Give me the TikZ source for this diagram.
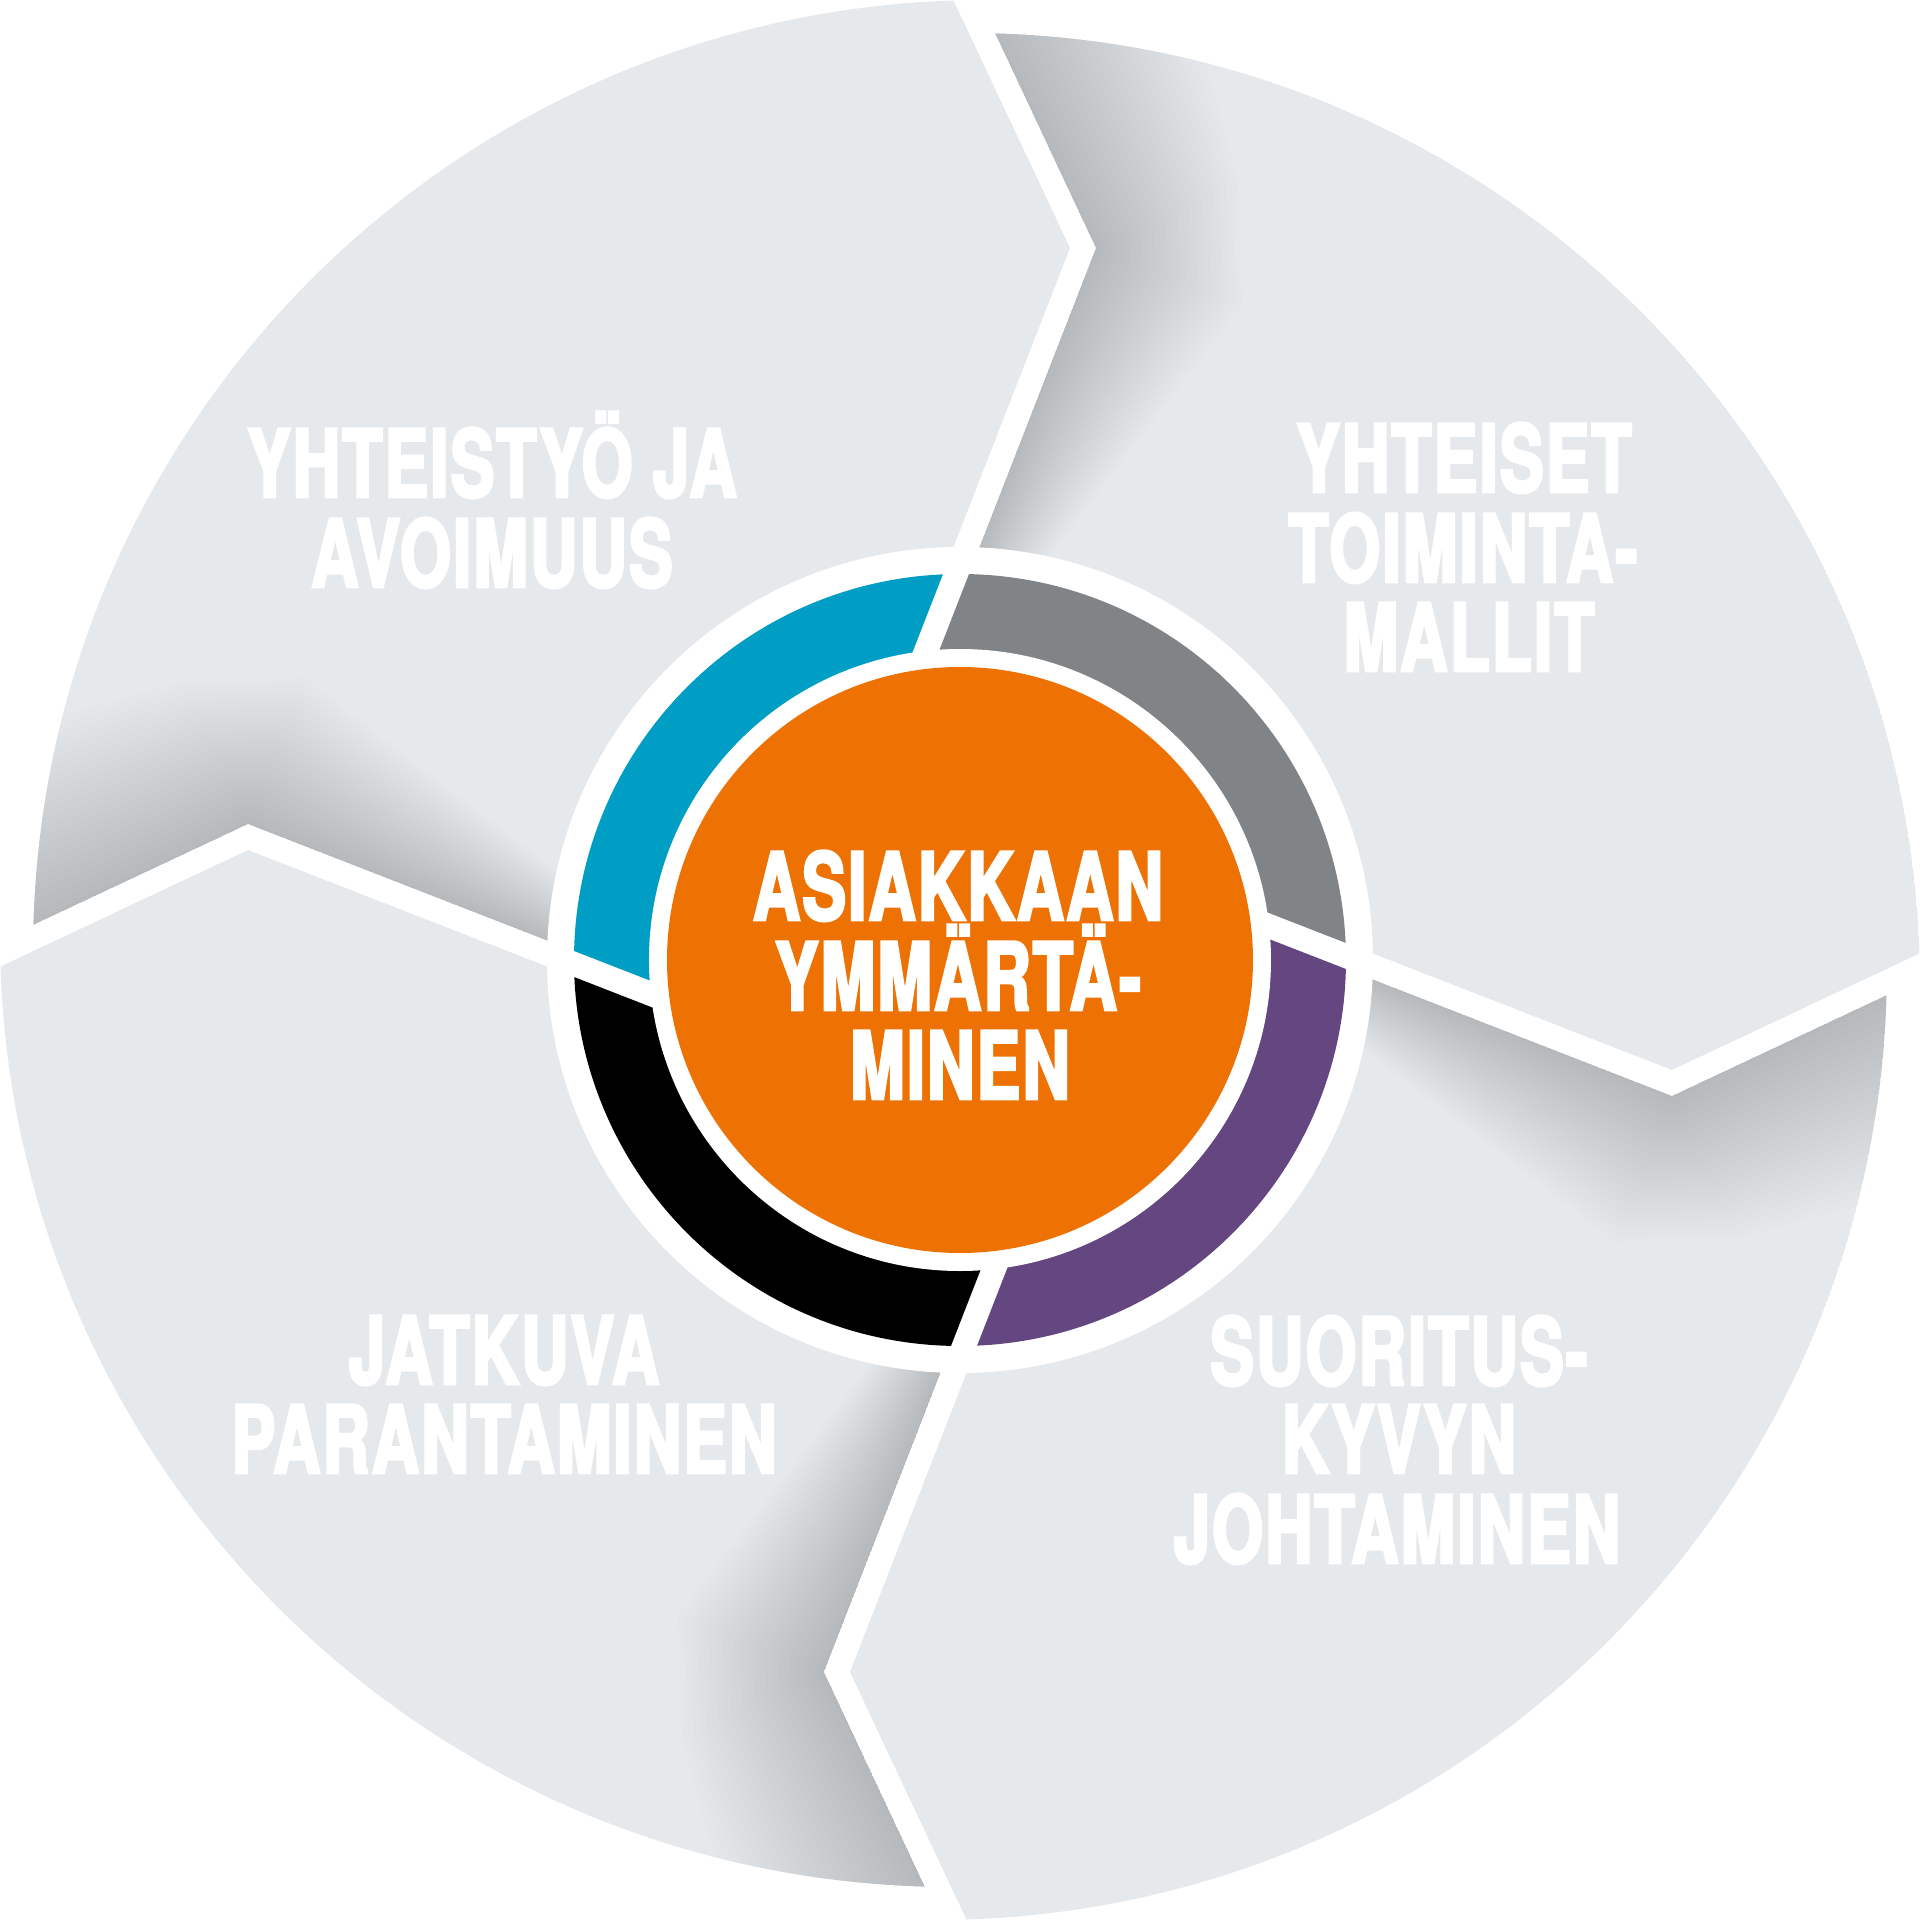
\documentclass[tikz,border=0pt]{standalone}
\usepackage{fontspec}
\newfontfamily\lblfont{TeX Gyre Heros}[FakeStretch=0.70,FakeBold=3,LetterSpace=2.3]
\definecolor{piecegray}{HTML}{E6E9EC}
\definecolor{segblue}{HTML}{009EC5}
\definecolor{seggray}{HTML}{818487}
\definecolor{segpurple}{HTML}{644680}
\definecolor{segblack}{HTML}{000000}
\definecolor{coreorange}{HTML}{EE7203}
\newcommand{\pcpoly}{(-66.1,193.1) -- (136,712) -- (-34.1,1074.1) -- (1300,1300) -- (1074,60.4) -- (712,-110) -- cycle}
\begin{document}
\begin{tikzpicture}[x=0.01cm,y=0.01cm,
  lbl/.style={text=white, font=\lblfont\bfseries\fontsize{26.6pt}{32pt}\selectfont, anchor=base, inner sep=0pt}]
\useasboundingbox (-960,-960) rectangle (960,960);
\fill[white] (-960,-960) rectangle (960,960);
% outer pieces, each with a soft shadow inside its notch
\foreach \r in {0,90,180,270}{
 \begin{scope}[rotate=\r]
  \clip \pcpoly;
  \clip (8,-25) circle[radius=952];
  \fill[piecegray] (8,-25) circle[radius=952];
  \foreach \i in {1,...,24}{
    \pgfmathsetmacro\g{(\i-0.5)/24}
    \pgfmathsetmacro\wa{65*\g}
    \pgfmathsetmacro\wc{160*\g}
    \pgfmathsetmacro\wo{230*\g}
    \fill[black,opacity=0.0098] (19.2,412.6) -- (136,712) -- (-34.1,1074.1)
      -- ({-34.1+0.9053*\wo},{1074.1+0.4253*\wo})
      -- ({136+0.9053*\wc},{712+0.4253*\wc})
      -- ({136+0.9317*\wc},{712-0.3633*\wc})
      -- ({19.2+0.9317*\wa},{412.6-0.3633*\wa}) -- cycle;
  }
 \end{scope}
}
\fill[white] (0,0) circle[radius=413];
% coloured ring segments
\foreach \r/\c in {0/seggray,90/segblue,180/segblack,270/segpurple}{
 \begin{scope}[rotate=\r]
  \clip \pcpoly;
  \fill[\c] (0,0) circle[radius=386];
 \end{scope}
}
\fill[white] (0,0) circle[radius=311];
\fill[coreorange] (0,0) circle[radius=293];
% labels
\node[lbl] (t1a) at (-468,463) {YHTEISTYÖ JA};
\node[lbl] (t1b) at (-468,373) {AVOIMUUS};
\node[lbl] (t2a) at (504,468) {YHTEISET};
\node[lbl] (t2b) at (503,378) {TOIMINTA-};
\node[lbl] (t2c) at (509,289) {MALLIT};
\node[lbl] (t3a) at (-456,-424) {JATKUVA};
\node[lbl] (t3b) at (-456,-513) {PARANTAMINEN};
\node[lbl] (t4a) at (439,-425) {SUORITUS-};
\node[lbl] (t4b) at (439,-513) {KYVYN};
\node[lbl] (t4c) at (437,-603) {JOHTAMINEN};
\node[lbl] (c1) at (-2,40) {ASIAKKAAN};
\node[lbl] (c2) at (-2,-50) {YMMÄRTÄ-};
\node[lbl] (c3) at (0,-139) {MINEN};
\end{tikzpicture}
\end{document}
